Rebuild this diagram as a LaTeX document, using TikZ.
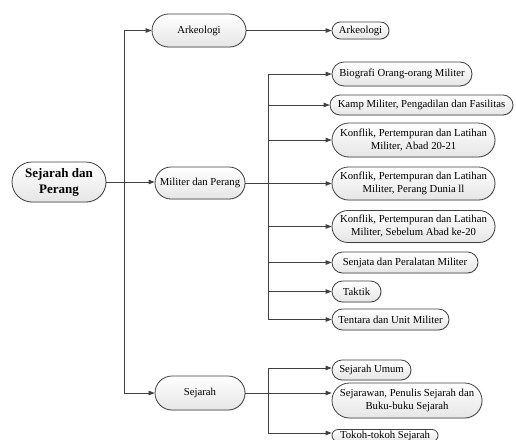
\documentclass[tikz,border=0pt]{standalone}
\usepackage{fontspec}
\setmainfont{Liberation Serif}
\usetikzlibrary{shapes.misc,arrows.meta,shadows}
\definecolor{linec}{HTML}{404040}
\tikzset{
  box/.style={rounded rectangle, draw=linec, line width=0.8pt,
    top color=white, bottom color=black!10, inner xsep=4pt, inner ysep=1pt,
    align=center, font=\fontsize{10.7}{13}\selectfont,
    drop shadow={opacity=0.18, shadow xshift=0.8pt, shadow yshift=-0.8pt}},
  rootbox/.style={box, font=\fontsize{13}{16}\selectfont\bfseries},
  conn/.style={draw=linec, line width=0.8pt},
  arr/.style={conn, -{Triangle[length=6pt,width=4.5pt]}}
}
\begin{document}
\begin{tikzpicture}[x=1pt,y=-1pt]
\useasboundingbox (0,0) rectangle (516,439);
% level 0
\node[rootbox, minimum width=102pt, minimum height=40pt] (root) at (59,182) {Sejarah dan\\Perang};
% level 1
\node[box, minimum width=102pt, minimum height=33pt] (ark1) at (199,30.5) {Arkeologi};
\node[box, minimum width=98pt, minimum height=32pt] (mil) at (200,183) {Militer dan Perang};
\node[box, minimum width=98pt, minimum height=34pt] (sej) at (200,393) {Sejarah};
% level 2
\node[box, minimum width=65pt, minimum height=17pt] (ark2) at (360.5,30.5) {Arkeologi};
\node[box, minimum width=148pt, minimum height=24pt] (bio) at (402,74) {Biografi Orang-orang Militer};
\node[box, minimum width=187pt, minimum height=20pt, inner xsep=2pt] (kamp) at (421.5,105) {Kamp Militer, Pengadilan dan Fasilitas};
\node[box, minimum width=171pt, minimum height=34pt] (k1) at (413.5,140) {Konflik, Pertempuran dan Latihan\\Militer, Abad 20-21};
\node[box, minimum width=171pt, minimum height=33pt] (k2) at (413.5,183.5) {Konflik, Pertempuran dan Latihan\\Militer, Perang Dunia ll};
\node[box, minimum width=171pt, minimum height=32pt] (k3) at (413.5,226.5) {Konflik, Pertempuran dan Latihan\\Militer, Sebelum Abad ke-20};
\node[box, minimum width=154pt, minimum height=21pt] (senjata) at (405,262.5) {Senjata dan Peralatan Militer};
\node[box, minimum width=57pt, minimum height=21pt] (taktik) at (356.5,291.5) {Taktik};
\node[box, minimum width=125pt, minimum height=21pt] (tentara) at (390.5,319.5) {Tentara dan Unit Militer};
\node[box, minimum width=87pt, minimum height=20pt] (umum) at (371.5,370) {Sejarah Umum};
\node[box, minimum width=158pt, minimum height=35pt] (sejarawan) at (407,400.5) {Sejarawan, Penulis Sejarah dan\\Buku-buku Sejarah};
\node[box, minimum width=114pt, minimum height=12pt] (tokoh) at (385,435.5) {Tokoh-tokoh Sejarah};
% trunk coordinates
\coordinate (tL) at (124,0);
\coordinate (tM) at (268,0);
\coordinate (uY) at (0,368);
\coordinate (tkY) at (0,433);
% level 0 -> 1
\draw[arr] (root.east) -- (root.east -| mil.west);
\draw[conn] (tL |- ark1.west) -- (tL |- sej.west);
\draw[arr] (tL |- ark1.west) -- (ark1.west);
\draw[arr] (tL |- sej.west) -- (sej.west);
% Arkeologi
\draw[arr] (ark1.east) -- (ark2.west);
% Militer
\draw[conn] (mil.east) -- (mil.east -| tM);
\draw[conn] (tM |- bio.west) -- (tM |- tentara.west);
\foreach \n in {bio,kamp,k1,k2,k3,senjata,taktik,tentara}
  \draw[arr] (tM |- \n.west) -- (\n.west);
% Sejarah
\draw[conn] (tM |- uY) -- (tM |- tkY);
\draw[arr] (sej.east) -- (sej.east -| sejarawan.west);
\draw[arr] (tM |- uY) -- (uY -| umum.west);
\draw[arr] (tM |- tkY) -- (tkY -| tokoh.west);
\end{tikzpicture}
\end{document}
